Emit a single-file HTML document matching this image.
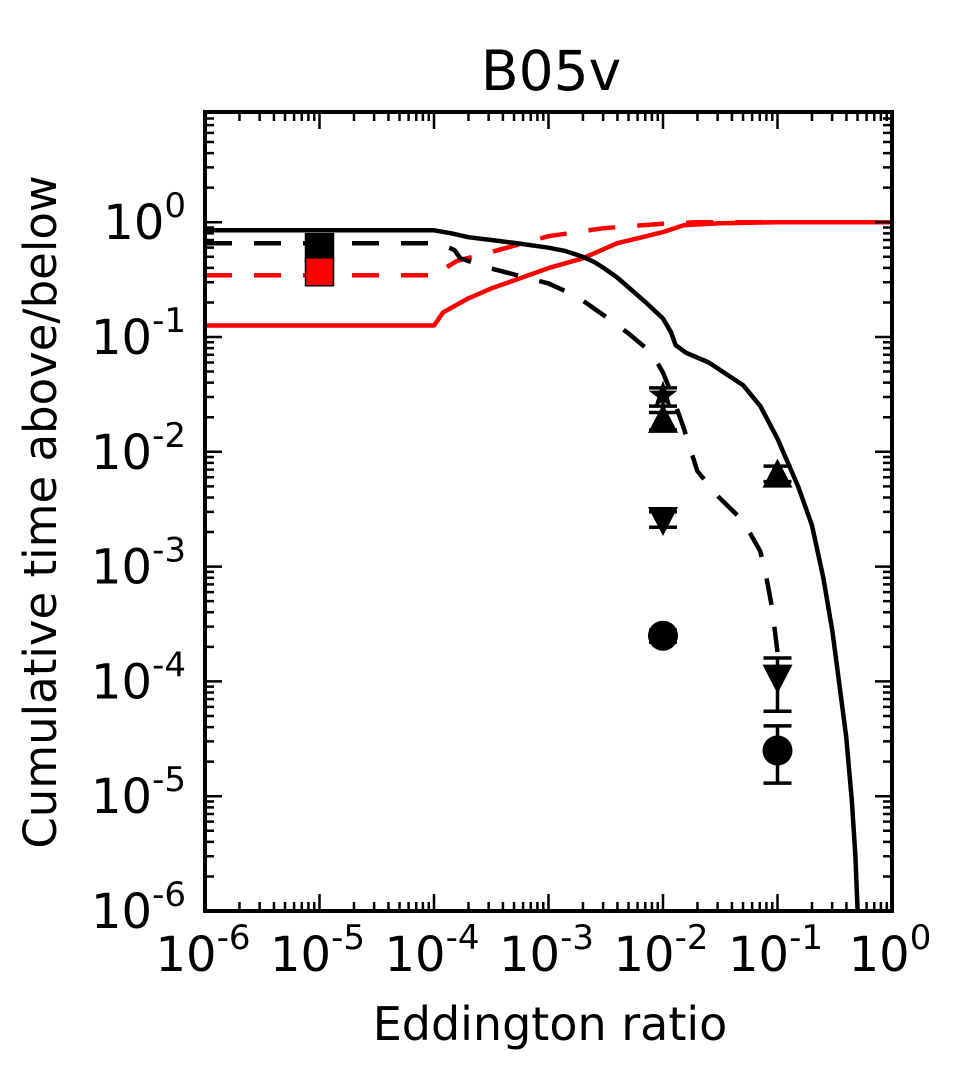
<!DOCTYPE html>
<html><head><meta charset="utf-8"><style>
body{margin:0;background:#fff}
svg text{font-family:"DejaVu Sans","Liberation Sans",sans-serif;fill:#000}
</style></head><body>
<svg id="chart" width="972" height="1078" xmlns="http://www.w3.org/2000/svg"></svg>
<script>
// ---- data ----
const blackSolidX=[-6,-4,-3.85,-3.7,-3.5,-3.3,-3,-2.85,-2.7,-2.6,-2.52,-2.4,-2.3,-2.15,-2,-1.93,-1.89,-1.8,-1.6,-1.3,-1.15,-1,-0.82,-0.7,-0.6,-0.52,-0.4,-0.35,-0.32,-0.3];
const blackSolidY=[0.85,0.85,0.8,0.74,0.7,0.66,0.6,0.56,0.5,0.45,0.4,0.33,0.27,0.2,0.145,0.11,0.085,0.073,0.06,0.038,0.025,0.013,0.005,0.0023,8e-4,2.7e-4,3.3e-5,9e-6,3e-6,1e-6];
const blackDashX=[-6,-4,-3.9,-3.82,-3.77,-3.52,-3.3,-3,-2.85,-2.7,-2.5,-2.3,-2.1,-2,-1.92,-1.82,-1.7,-1.52,-1.3,-1.15,-1.1,-1.05,-1];
const blackDashY=[0.656,0.656,0.62,0.57,0.485,0.4,0.35,0.293,0.25,0.208,0.15,0.107,0.073,0.049,0.031,0.0162,0.0068,0.0041,0.0025,0.00136,8.3e-4,4.5e-4,1.8e-4];
const redSolidX=[-6,-4,-3.92,-3.7,-3.5,-3.3,-3,-2.7,-2.4,-2,-1.82,-1.5,-1,0];
const redSolidY=[0.126,0.126,0.164,0.217,0.265,0.311,0.398,0.485,0.656,0.82,0.94,0.98,1.0,1.0];
const redDashX=[-6,-3.97,-3.9,-3.8,-3.5,-3,-2.52,-2,-1.7,0];
const redDashY=[0.345,0.345,0.4,0.46,0.55,0.755,0.887,0.97,1.0,1.0];
const ptsX=[-2,-2,-2,-2,-1,-1,-1];
const ptsY=[0.031,0.0186,0.0026,2.5e-4,0.0062,1.1e-4,2.5e-5];
const ptsLo=[0.025,0.0155,0.0022,2.2e-4,0.0055,5.5e-5,1.3e-5];
const ptsHi=[0.036,0.022,0.003,2.8e-4,0.0075,1.6e-4,4.1e-5];
const ptsShape=['star','up','down','circle','up','down','circle'];
const sqX=[-5,-5];
const sqY=[0.6,0.37];
const sqColor=['#000','#f00'];
const xTickLabels=['-6','-5','-4','-3','-2','-1','0'];
const yTickLabels=['0','-1','-2','-3','-4','-5','-6'];
// ---- axes ----
const L=205,R=892,B=911,T=112;
const xd=(R-L)/6, yd=114.8;
const X=lx=>L+(lx+6)*xd;
const Y=v=>B-(Math.log10(v)+6)*yd;
const YL=ly=>B-(ly+6)*yd;
const svg=document.getElementById('chart');
const NS='http://www.w3.org/2000/svg';
function mk(tag,attrs,parent){const e=document.createElementNS(NS,tag);for(const k in attrs)e.setAttribute(k,attrs[k]);(parent||svg).appendChild(e);return e;}
const cp=mk('clipPath',{id:'cp'});
mk('rect',{x:L,y:T,width:R-L,height:B-T},cp);
const plot=mk('g',{});


function line(xs,ys,color,dash,name){
  const d=xs.map((x,i)=>(i?'L':'M')+X(x).toFixed(1)+','+Y(ys[i]).toFixed(1)).join('');
  const p=mk('path',{d:d,fill:'none',stroke:color,'stroke-width':4.5,'stroke-linejoin':'round','stroke-dasharray':dash||'none','clip-path':'url(#cp)'},plot);
  
  
}
line(redSolidX,redSolidY,'#f00',null,'red-solid-line');
line(redDashX,redDashY,'#f00','27,22','red-dashed-line');
line(blackSolidX,blackSolidY,'#000',null,'black-solid-line');
line(blackDashX,blackDashY,'#000','27,22','black-dashed-line');
// squares
sqX.forEach((x,i)=>{
  const r=mk('rect',{x:X(x)-14,y:Y(sqY[i])-14,width:28,height:28,fill:sqColor[i],stroke:'#000','stroke-width':1.5},plot);
  
  
});
// points
ptsX.forEach((x,i)=>{
  const cx=X(x),cy=Y(ptsY[i]);
  const g=mk('g',{},plot);
  
  
  const lo=Y(ptsLo[i]),hi=Y(ptsHi[i]);
  mk('path',{d:`M${cx},${hi}L${cx},${lo}M${cx-14},${hi}L${cx+14},${hi}M${cx-14},${lo}L${cx+14},${lo}`,stroke:'#000','stroke-width':3.5,fill:'none'},g);
  const s=ptsShape[i];
  if(s==='circle')mk('circle',{cx:cx,cy:cy,r:15,fill:'#000'},g);
  else if(s==='up')mk('path',{d:`M${cx},${cy-17}L${cx+15},${cy+12}L${cx-15},${cy+12}Z`,fill:'#000'},g);
  else if(s==='down')mk('path',{d:`M${cx},${cy+17}L${cx+15},${cy-12}L${cx-15},${cy-12}Z`,fill:'#000'},g);
  else{let d='';for(let k=0;k<10;k++){const a=-Math.PI/2+k*Math.PI/5,rr=k%2?6:15;d+=(k?'L':'M')+(cx+rr*Math.cos(a)).toFixed(1)+','+(cy+rr*Math.sin(a)).toFixed(1);}mk('path',{d:d+'Z',fill:'#000'},g);}
});
// frame
const fr=mk('rect',{x:L,y:T,width:R-L,height:B-T,fill:'none',stroke:'#000','stroke-width':4});


// ticks
let td='';
for(let dcd=-6;dcd<=0;dcd++){
  const x=X(dcd);td+=`M${x},${B}L${x},${B-17}M${x},${T}L${x},${T+17}`;
  if(dcd<0)for(let m=2;m<10;m++){const xm=X(dcd+Math.log10(m));td+=`M${xm},${B}L${xm},${B-9}M${xm},${T}L${xm},${T+9}`;}
}
for(let dcd=-6;dcd<=0;dcd++){
  const y=YL(dcd);td+=`M${L},${y}L${L+17},${y}M${R},${y}L${R-17},${y}`;
  for(let m=2;m<10;m++){const ym=YL(dcd+Math.log10(m));if(ym<T)continue;td+=`M${L},${ym}L${L+9},${ym}M${R},${ym}L${R-9},${ym}`;}
}
mk('path',{d:td,stroke:'#000','stroke-width':2.5,fill:'none'});
xTickLabels.forEach((t,i)=>{
  const tx=mk('text',{x:X(i-6)-2,y:971,'text-anchor':'middle','font-size':48});
  
  
  tx.innerHTML=`10<tspan font-size="34" dy="-22">${t}</tspan>`;
});
yTickLabels.forEach((t,i)=>{
  const tx=mk('text',{x:186,y:YL(-i)+17,'text-anchor':'end','font-size':48});
  
  
  tx.innerHTML=`10<tspan font-size="34" dy="-22">${t}</tspan>`;
});
const title=mk('text',{x:551,y:90,'text-anchor':'middle','font-size':55});


title.textContent='B05v';
const xl=mk('text',{x:550,y:1040,'text-anchor':'middle','font-size':46});


xl.textContent='Eddington ratio';
const yl=mk('text',{x:0,y:0,'text-anchor':'middle','font-size':45,transform:'translate(56,512) rotate(-90)'});


yl.textContent='Cumulative time above/below';
</script>
</body></html>
